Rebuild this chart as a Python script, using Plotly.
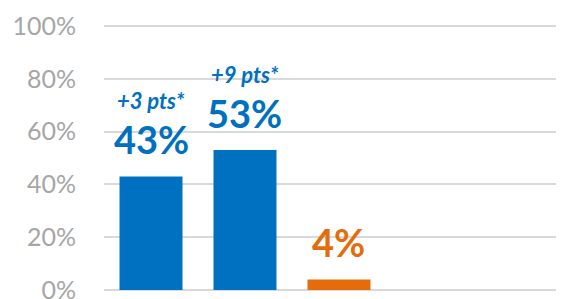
import plotly.graph_objects as go

categories = ["Group A", "Group B", "Group C"]
values = [0.43, 0.53, 0.04]
value_labels = ["43%", "53%", "4%"]
change_labels = ["+3 pts*", "+9 pts*", ""]
bar_colors = ["#0070C0", "#0070C0", "#E46C0A"]
tick_vals = [0, 0.2, 0.4, 0.6, 0.8, 1.0]
tick_text = ["0%", "20%", "40%", "60%", "80%", "100%"]

FONT = "Lato"

fig = go.Figure()
fig.add_trace(go.Bar(
    x=categories, y=values, marker=dict(color=bar_colors, line=dict(width=0)),
    width=0.67, hoverinfo="skip",
))

for cat, v, lab, ch, col in zip(categories, values, value_labels, change_labels, bar_colors):
    fig.add_annotation(x=cat, y=v, text=f"<b>{lab}</b>", showarrow=False,
                       yanchor="middle", yshift=37,
                       font=dict(family=FONT, size=38, color=col))
    if ch:
        fig.add_annotation(x=cat, y=v, text=f"<b><i>{ch}</i></b>", showarrow=False,
                           yanchor="middle", yshift=76,
                           font=dict(family=FONT, size=22, color=col))

fig.update_layout(
    width=575, height=291,
    margin=dict(l=96, r=0, t=17, b=8, autoexpand=False),
    paper_bgcolor="white", plot_bgcolor="white",
    showlegend=False,
    bargap=0.33,
    xaxis=dict(range=[-0.5, 4.596], showticklabels=False, showgrid=False,
               zeroline=False, showline=False, fixedrange=True, automargin=False),
    yaxis=dict(range=[-0.004, 1.004], tickvals=tick_vals, ticktext=tick_text,
               showgrid=True, gridcolor="#D9D9D9", gridwidth=1.5,
               zeroline=True, zerolinecolor="#D9D9D9", zerolinewidth=1.5,
               showline=False, ticks="", ticklabelstandoff=27, automargin=False,
               ticklabeloverflow="allow",
               tickfont=dict(family=FONT, size=25, color="#A6A6A6")),
)

fig.write_html("out.html", config={"displayModeBar": False})
